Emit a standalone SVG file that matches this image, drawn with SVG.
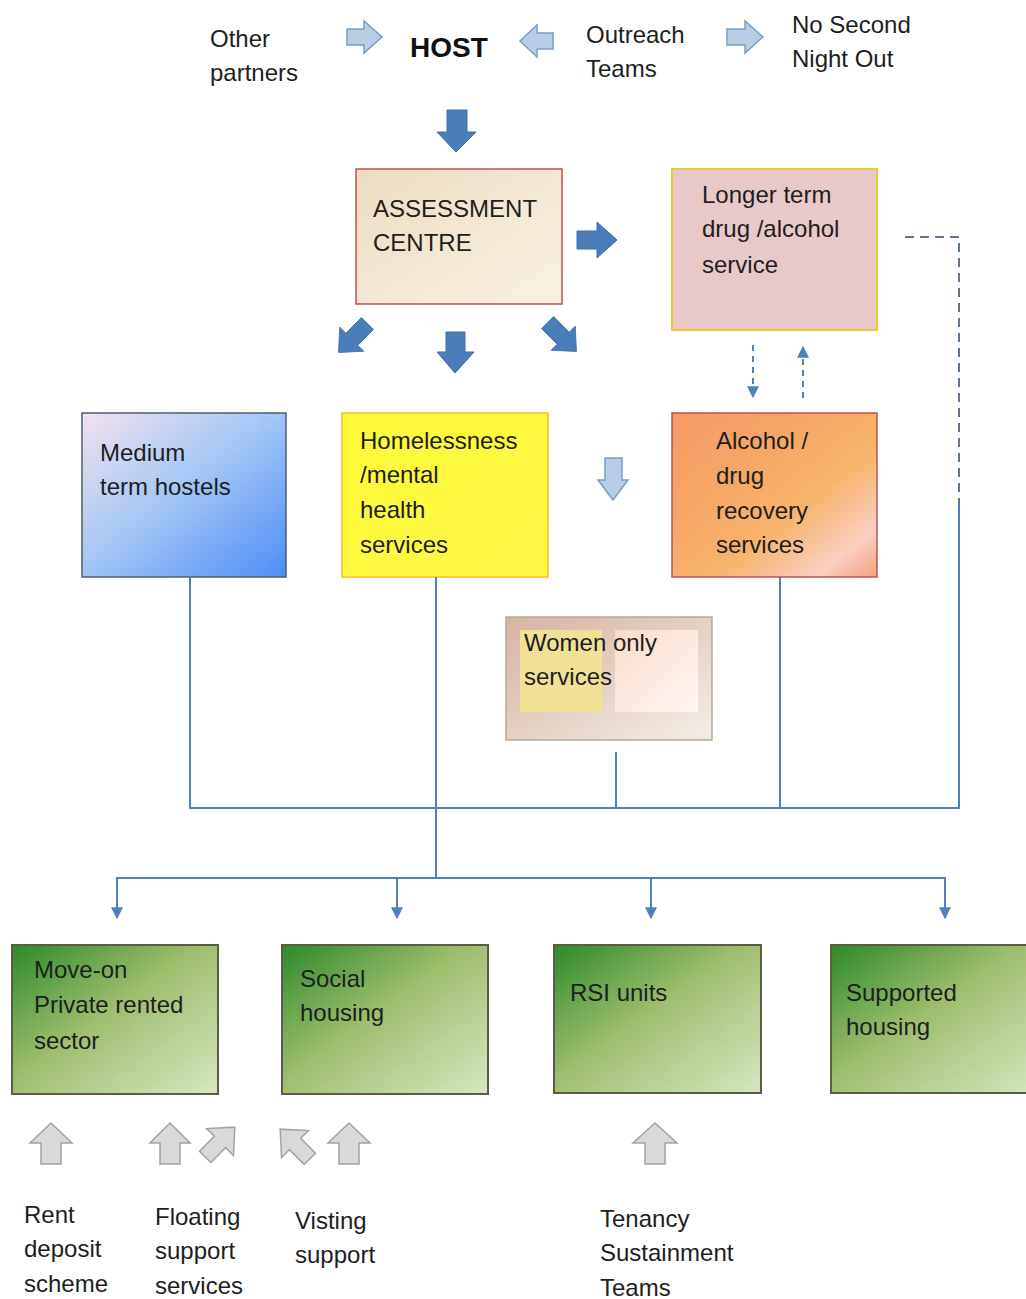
<svg xmlns="http://www.w3.org/2000/svg" width="1026" height="1299" viewBox="0 0 1026 1299">
<defs>
<style>
text{font-family:"Liberation Sans",Arial,sans-serif;font-size:24px;fill:#1e1e1e}
.host{font-weight:bold;font-size:28px;fill:#111}
.hollow{fill:#b9cde6;stroke:#7b9cc6;stroke-width:1.5}
.solid{fill:#4a7ebb;stroke:#3e6ea8;stroke-width:1}
.grey{fill:#d9d9d9;stroke:#a3a3a3;stroke-width:1.5}
.conn{fill:none;stroke:#4f81bd;stroke-width:2}
.dash{fill:none;stroke:#4f81bd;stroke-width:2;stroke-dasharray:6 5}
.dash2{fill:none;stroke:#5f7590;stroke-width:2;stroke-dasharray:9 6}
.green{stroke:#5c5c46;stroke-width:2}
</style>
<marker id="ah" viewBox="0 0 10 10" refX="9" refY="5" markerWidth="6" markerHeight="6" orient="auto" markerUnits="strokeWidth">
<path d="M0,0 L10,5 L0,10 z" fill="#4f81bd"/>
</marker>
<linearGradient id="gAssess" x1="0" y1="0" x2="1" y2="1">
<stop offset="0" stop-color="#ecdcc2"/><stop offset="1" stop-color="#f9f2e4"/>
</linearGradient>
<linearGradient id="gMedium" x1="0" y1="0" x2="1" y2="1">
<stop offset="0" stop-color="#f2e2ee"/><stop offset="0.45" stop-color="#a8c8f6"/><stop offset="1" stop-color="#4d8ff5"/>
</linearGradient>
<linearGradient id="gHome" x1="0" y1="0" x2="1" y2="1">
<stop offset="0" stop-color="#fffb3a"/><stop offset="1" stop-color="#fff645"/>
</linearGradient>
<linearGradient id="gAlc" x1="0" y1="0" x2="1" y2="1">
<stop offset="0" stop-color="#f49a68"/><stop offset="0.35" stop-color="#f6a766"/><stop offset="0.6" stop-color="#f7b36a"/><stop offset="0.85" stop-color="#f9d0c0"/><stop offset="1" stop-color="#f4a080"/>
</linearGradient>
<linearGradient id="gWomen" x1="0" y1="0" x2="1" y2="1">
<stop offset="0" stop-color="#d6b4a2"/><stop offset="1" stop-color="#f3ede6"/>
</linearGradient>
<linearGradient id="gWomenR" x1="0" y1="0" x2="1" y2="1">
<stop offset="0" stop-color="#f8dcca"/><stop offset="1" stop-color="#fff6f4"/>
</linearGradient>
<linearGradient id="gGreen" x1="0" y1="0" x2="1" y2="1">
<stop offset="0" stop-color="#2c8a2a"/><stop offset="0.45" stop-color="#9ebd6c"/><stop offset="1" stop-color="#d6e7c2"/>
</linearGradient>
<polygon id="arrowR" points="-24,-10 2,-10 2,-20 24,0 2,20 2,10 -24,10"/>
<polygon id="arrowG" points="-21,-8 0,-8 0,-19 21,0 0,19 0,8 -21,8"/>
</defs>

<g id="top-arrows">
<polygon class="hollow" points="347,29 364,29 364,21 382,37 364,53 364,45 347,45"/>
<polygon class="hollow" points="553,33 537,33 537,25 520,41 537,57 537,49 553,49"/>
<polygon class="hollow" points="727,29 745,29 745,21 763,37 745,53 745,45 727,45"/>
<polygon class="solid" points="447,110 467,110 467,132 476,132 456,152 437,132 447,132"/>
</g>

<g id="other-partners"><text x="210" y="47">Other</text><text x="210" y="81">partners</text></g>
<g id="host"><text class="host" x="410" y="57">HOST</text></g>
<g id="outreach"><text x="586" y="43">Outreach</text><text x="586" y="77">Teams</text></g>
<g id="nsno"><text x="792" y="33">No Second</text><text x="792" y="67">Night Out</text></g>

<g id="assessment">
<rect x="356" y="169" width="206" height="135" fill="url(#gAssess)" stroke="#c0504d" stroke-width="1.5"/>
<text x="373" y="217">ASSESSMENT</text><text x="373" y="251">CENTRE</text>
</g>

<g id="assess-arrows">
<polygon class="solid" points="577,231 597,231 597,222 617,240 597,258 597,249 577,249"/>
<polygon class="solid" points="446,332 465,332 465,352 474,352 455,373 437,352 446,352"/>
<use href="#arrowR" class="solid" transform="translate(353,338) rotate(135) scale(0.85)"/>
<use href="#arrowR" class="solid" transform="translate(562,337) rotate(45) scale(0.85)"/>
</g>

<g id="longer-term">
<rect x="672" y="169" width="205" height="161" fill="#e8c9c9" stroke="#f4c534" stroke-width="2"/>
<text x="702" y="203">Longer term</text><text x="702" y="237">drug /alcohol</text><text x="702" y="273">service</text>
</g>

<g id="medium">
<rect x="82" y="413" width="204" height="164" fill="url(#gMedium)" stroke="#4e5e6e" stroke-width="1.5"/>
<text x="100" y="461">Medium</text><text x="100" y="495">term hostels</text>
</g>

<g id="homeless">
<rect x="342" y="413" width="206" height="164" fill="url(#gHome)" stroke="#f2c020" stroke-width="1.5"/>
<text x="360" y="449">Homelessness</text><text x="360" y="483">/mental</text><text x="360" y="518">health</text><text x="360" y="553">services</text>
</g>

<g id="mid-arrow">
<polygon class="hollow" points="605,458 622,458 622,480 628,480 613,500 598,480 605,480"/>
</g>

<g id="alcohol">
<rect x="672" y="413" width="205" height="164" fill="url(#gAlc)" stroke="#c0504d" stroke-width="1.5"/>
<text x="716" y="449">Alcohol /</text><text x="716" y="484">drug</text><text x="716" y="519">recovery</text><text x="716" y="553">services</text>
</g>

<g id="women">
<rect x="506" y="617" width="206" height="123" fill="url(#gWomen)" stroke="#b8a898" stroke-width="1.5"/>
<rect x="520" y="630" width="82" height="82" fill="#f1e196"/>
<rect x="615" y="630" width="83" height="82" fill="url(#gWomenR)"/>
<text x="524" y="651">Women only</text><text x="524" y="685">services</text>
</g>

<g id="connectors">
<line class="dash" x1="753" y1="345" x2="753" y2="397" marker-end="url(#ah)"/>
<line class="dash" x1="803" y1="398" x2="803" y2="347" marker-end="url(#ah)"/>
<polyline class="dash2" points="905,237 959,237 959,505"/>
<line class="conn" x1="190" y1="577" x2="190" y2="808"/>
<line class="conn" x1="436" y1="577" x2="436" y2="878"/>
<line class="conn" x1="616" y1="752" x2="616" y2="808"/>
<line class="conn" x1="780" y1="577" x2="780" y2="808"/>
<line class="conn" x1="959" y1="505" x2="959" y2="808"/>
<line class="conn" x1="189" y1="808" x2="960" y2="808"/>
<line class="conn" x1="116" y1="878" x2="946" y2="878"/>
<line class="conn" x1="117" y1="877" x2="117" y2="918" marker-end="url(#ah)"/>
<line class="conn" x1="397" y1="877" x2="397" y2="918" marker-end="url(#ah)"/>
<line class="conn" x1="651" y1="877" x2="651" y2="918" marker-end="url(#ah)"/>
<line class="conn" x1="945" y1="877" x2="945" y2="918" marker-end="url(#ah)"/>
</g>

<g id="move-on">
<rect class="green" x="12" y="945" width="206" height="149" fill="url(#gGreen)"/>
<text x="34" y="978">Move-on</text><text x="34" y="1013">Private rented</text><text x="34" y="1049">sector</text>
</g>
<g id="social">
<rect class="green" x="282" y="945" width="206" height="149" fill="url(#gGreen)"/>
<text x="300" y="987">Social</text><text x="300" y="1021">housing</text>
</g>
<g id="rsi">
<rect class="green" x="554" y="945" width="207" height="148" fill="url(#gGreen)"/>
<text x="570" y="1001">RSI units</text>
</g>
<g id="supported">
<rect class="green" x="831" y="945" width="210" height="148" fill="url(#gGreen)"/>
<text x="846" y="1001">Supported</text><text x="846" y="1035">housing</text>
</g>

<g id="bottom-arrows">
<polygon class="grey" points="41,1164 61,1164 61,1143 72,1143 51,1123 30,1143 41,1143"/>
<polygon class="grey" points="160,1164 180,1164 180,1143 190,1143 170,1123 150,1143 160,1143"/>
<use href="#arrowG" class="grey" transform="translate(220,1142) rotate(-45)"/>
<use href="#arrowG" class="grey" transform="translate(295,1144) rotate(-135)"/>
<polygon class="grey" points="339,1164 359,1164 359,1143 370,1143 349,1123 328,1143 339,1143"/>
<polygon class="grey" points="645,1164 665,1164 665,1143 677,1143 655,1123 633,1143 645,1143"/>
</g>

<g id="rent"><text x="24" y="1223">Rent</text><text x="24" y="1257">deposit</text><text x="24" y="1292">scheme</text></g>
<g id="floating"><text x="155" y="1225">Floating</text><text x="155" y="1259">support</text><text x="155" y="1294">services</text></g>
<g id="visiting"><text x="295" y="1229">Visting</text><text x="295" y="1263">support</text></g>
<g id="tenancy"><text x="600" y="1227">Tenancy</text><text x="600" y="1261">Sustainment</text><text x="600" y="1296">Teams</text></g>
</svg>
